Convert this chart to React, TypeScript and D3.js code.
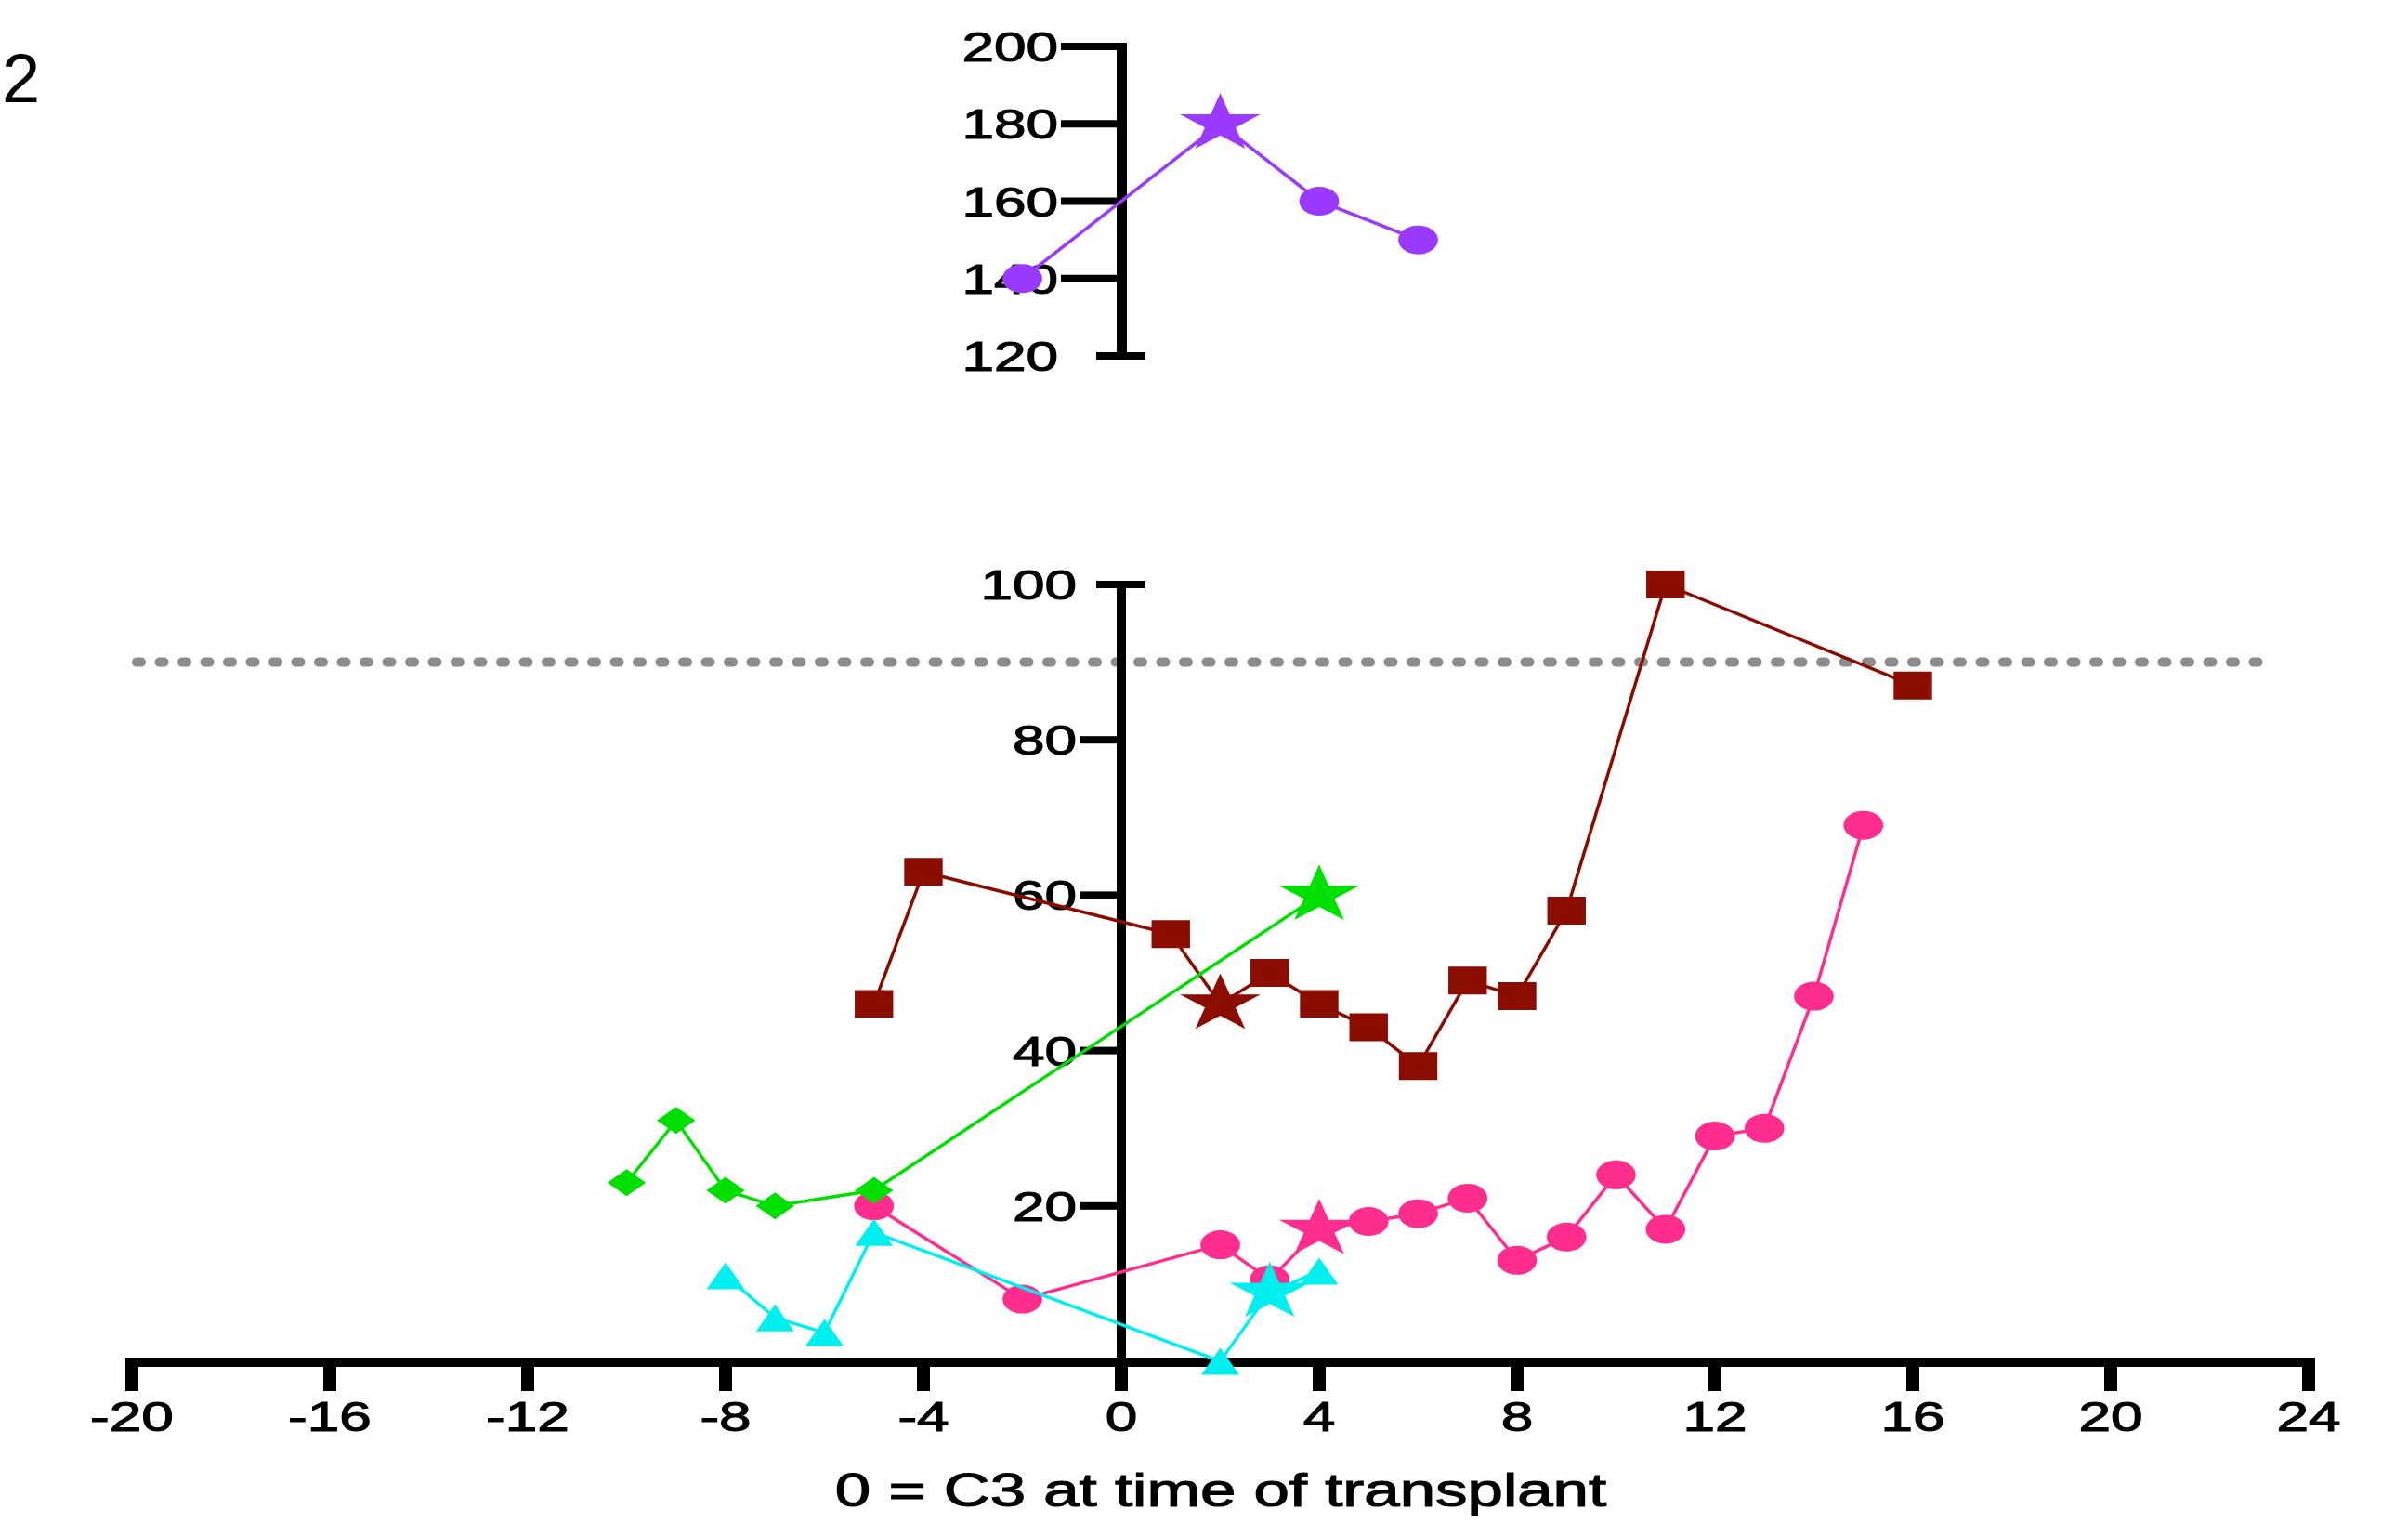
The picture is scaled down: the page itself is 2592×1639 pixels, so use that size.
import React from 'react';
import * as d3 from 'd3';

const width = 2592;
const height = 1639;
const stretch = 1.38; // the source picture is widened horizontally
const font = '"Liberation Sans", Arial, Helvetica, sans-serif';

// lower panel (0–100)
const redDays = [-5, -4, 1, 2, 3, 4, 5, 6, 7, 8, 9, 11, 16];
const redValues = [46, 63, 55, 46, 50, 46, 43, 38, 49, 47, 58, 100, 87];
const redStarDay = 2;

const pinkDays = [-5, -2, 2, 3, 4, 5, 6, 7, 8, 9, 10, 11, 12, 13, 14, 15];
const pinkValues = [20, 8, 15, 10.5, 17, 18, 19, 21, 13, 16, 24, 17, 29, 30, 47, 69];
const pinkStarDay = 4;

const cyanDays = [-8, -7, -6, -5, 2, 3, 4];
const cyanValues = [11, 5.6, 3.7, 16.6, 0, 8.9, 11.6];
const cyanStarDay = 3;

const greenDays = [-10, -9, -8, -7, -5, 4];
const greenValues = [23, 31, 22, 20, 22, 60];
const greenStarDay = 4;

// upper panel (120–200)
const purpleDays = [-2, 2, 4, 6];
const purpleValues = [140, 180, 160, 150];
const purpleStarDay = 2;

const threshold = 90;
const xTicks = [-20, -16, -12, -8, -4, 0, 4, 8, 12, 16, 20, 24];
const lowTicks = [20, 40, 60, 80, 100];
const topTicks = [120, 140, 160, 180, 200];

const x = d3.scaleLinear().domain([-20, 24]).range([142, 2485]);
const yLow = d3.scaleLinear().domain([0, 100]).range([1465, 629]);
const yTop = d3.scaleLinear().domain([120, 200]).range([383, 50]);

const starPath = (R: number) => {
  const r = R * 0.382;
  const pts: [number, number][] = [];
  for (let i = 0; i < 10; i++) {
    const a = (Math.PI / 5) * i - Math.PI / 2;
    const rr = i % 2 === 0 ? R : r;
    pts.push([rr * Math.cos(a), rr * Math.sin(a)]);
  }
  return 'M' + pts.map(p => p.join(',')).join('L') + 'Z';
};

const shapes: Record<string, string> = {
  square: 'M-15,-15h30v30h-30Z',
  circle: d3.symbol(d3.symbolCircle, Math.PI * 15.5 * 15.5)() as string,
  triangle: 'M0,-14.5L14.8,14.5L-14.8,14.5Z',
  diamond: 'M0,-14.5L15,0L0,14.5L-15,0Z',
  star: starPath(33),
};

type SeriesProps = {
  days: number[];
  values: number[];
  starDay: number;
  shape: string;
  color: string;
  y: d3.ScaleLinear<number, number>;
};

const Series = ({ days, values, starDay, shape, color, y }: SeriesProps) => {
  const pts = days.map((d, i) => [x(d), y(values[i])] as [number, number]);
  const line = d3.line();
  return (
    <g>
      <path d={line(pts) || ''} fill="none" stroke={color} strokeWidth={3.5} />
      {pts.map((p, i) => (
        <path
          key={i}
          d={days[i] === starDay ? shapes.star : shapes[shape]}
          fill={color}
          transform={`translate(${p[0]},${p[1]}) scale(${stretch},1)`}
        />
      ))}
    </g>
  );
};

const Label = ({ tx, ty, size, anchor, children }: any) => (
  <text
    transform={`translate(${tx},${ty}) scale(${stretch},1)`}
    fontSize={size}
    fontFamily={font}
    textAnchor={anchor}
    fill="#000"
    stroke="#000"
    strokeWidth={1.1}
  >
    {children}
  </text>
);

export default function App() {
  const axisX = x(0);
  return (
    <svg
      width={width}
      height={height}
      style={{ position: 'absolute', left: 0, top: 0, background: '#fff' }}
    >
      <rect width={width} height={height} fill="#fff" />
      <text x={2} y={110} fontSize={74} fontFamily={font}>2</text>

      {/* threshold line */}
      <line
        x1={x(-20) + 5}
        x2={2446}
        y1={yLow(threshold)}
        y2={yLow(threshold)}
        stroke="#8c8c8c"
        strokeWidth={10}
        strokeLinecap="round"
        strokeDasharray="5 19.5"
      />

      {/* upper axis */}
      <rect x={axisX - 5} y={46} width={11} height={yTop(120) - 46 + 4} fill="#000" />
      {topTicks.map(t =>
        t === 120 ? (
          <rect key={t} x={axisX - 27} y={yTop(t) - 4} width={53} height={8} fill="#000" />
        ) : (
          <rect key={t} x={axisX - 65} y={yTop(t) - 4} width={65} height={8} fill="#000" />
        )
      )}
      {topTicks.map(t => (
        <Label key={t} tx={1139} ty={yTop(t) + 16} size={45} anchor="end">{t}</Label>
      ))}

      {/* lower y axis */}
      <rect x={axisX - 5} y={yLow(100) - 4} width={10} height={yLow(0) - yLow(100) + 4} fill="#000" />
      {lowTicks.map(t =>
        t === 100 ? (
          <rect key={t} x={axisX - 27} y={yLow(t) - 4} width={53} height={8} fill="#000" />
        ) : (
          <rect key={t} x={axisX - 44} y={yLow(t) - 4} width={44} height={8} fill="#000" />
        )
      )}
      {lowTicks.map(t => (
        <Label key={t} tx={1159} ty={yLow(t) + 16} size={45} anchor="end">{t}</Label>
      ))}

      {/* x axis */}
      <rect x={x(-20) - 7} y={1461} width={x(24) - x(-20) + 14} height={10} fill="#000" />
      {xTicks.map(t => (
        <rect key={t} x={x(t) - 7} y={1466} width={14} height={31} fill="#000" />
      ))}
      {xTicks.map(t => (
        <Label key={t} tx={x(t)} ty={1540} size={45} anchor="middle">{t}</Label>
      ))}
      <Label tx={1314} ty={1621} size={50} anchor="middle">0 = C3 at time of transplant</Label>

      <Series days={purpleDays} values={purpleValues} starDay={purpleStarDay} shape="circle" color="#9A3AFF" y={yTop} />
      <Series days={redDays} values={redValues} starDay={redStarDay} shape="square" color="#8B0D00" y={yLow} />
      <Series days={pinkDays} values={pinkValues} starDay={pinkStarDay} shape="circle" color="#FF2E8E" y={yLow} />
      <Series days={cyanDays} values={cyanValues} starDay={cyanStarDay} shape="triangle" color="#00F0F0" y={yLow} />
      <Series days={greenDays} values={greenValues} starDay={greenStarDay} shape="diamond" color="#00E000" y={yLow} />
    </svg>
  );
}
